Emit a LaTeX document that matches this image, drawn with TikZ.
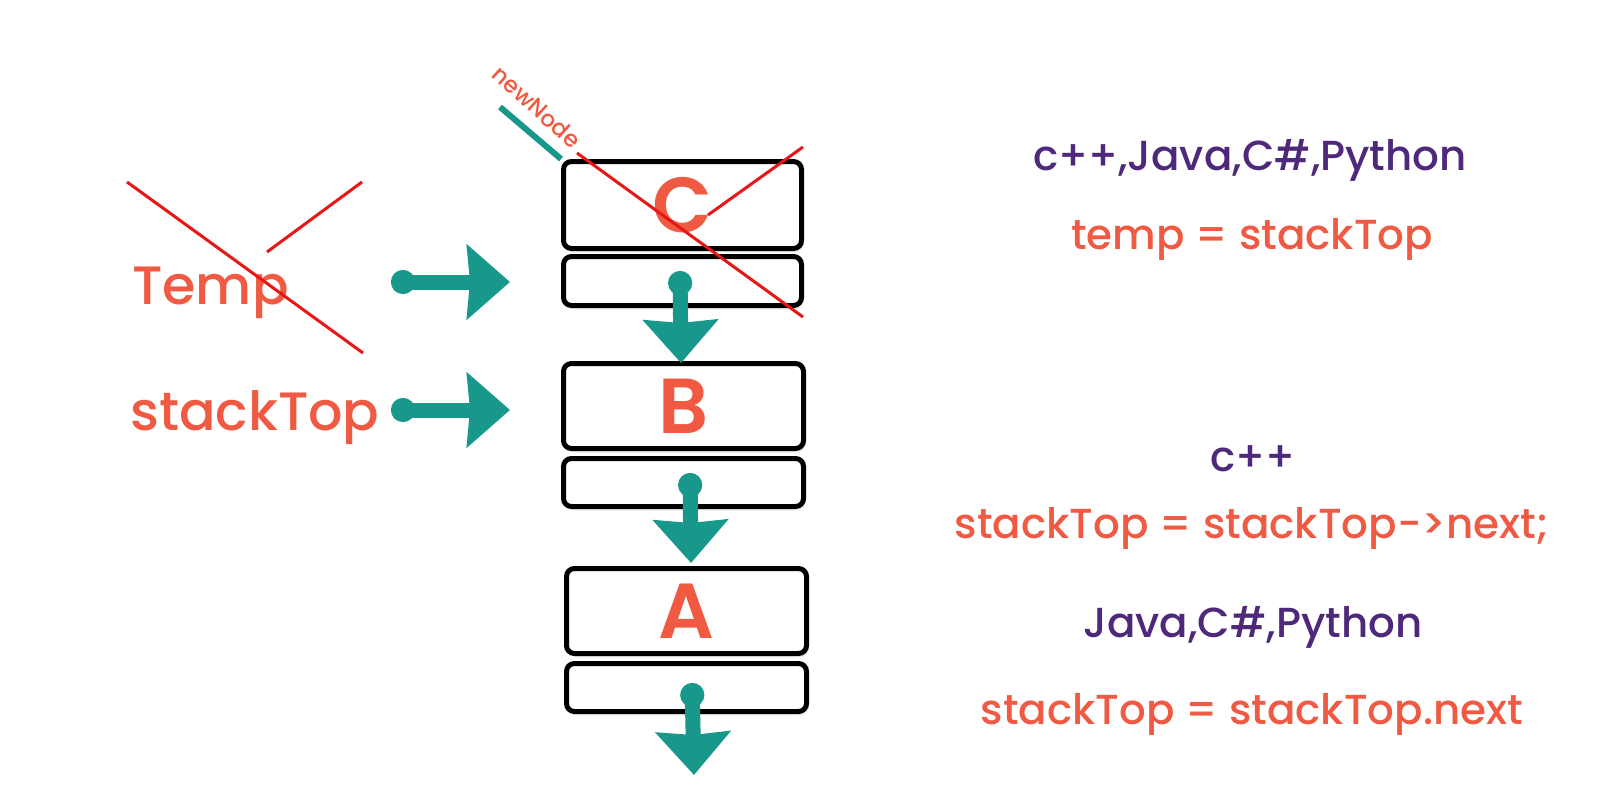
\documentclass[tikz,border=0pt]{standalone}
\usepackage{fontspec}
\setmainfont{Poppins}[UprightFont={* Medium}, BoldFont={* SemiBold}]
\usetikzlibrary{arrows.meta,shadows}
\definecolor{coral}{RGB}{240,90,66}
\definecolor{deeppurple}{RGB}{78,40,122}
\definecolor{tealc}{RGB}{24,152,138}
\definecolor{crossred}{RGB}{232,22,22}
\begin{document}
\begin{tikzpicture}[x=1pt,y=-1pt,
  cell/.style={draw=black, line width=5pt, rounded corners=8pt, fill=white,
    inner sep=0pt, text depth=0pt, text=coral,
    font=\fontsize{78}{80}\selectfont\bfseries,
    drop shadow={opacity=0.12, shadow xshift=2pt, shadow yshift=-4pt}},
  ptr/.style={draw=tealc, line width=15pt,
    {Circle[length=24pt]}-{Stealth[length=43pt,width=74pt,inset=3pt]}},
  strike/.style={draw=crossred, line width=3pt},
  bigLbl/.style={text=coral, inner sep=0pt, anchor=base west, font=\fontsize{54}{60}\selectfont},
  codeTxt/.style={inner sep=0pt, anchor=base, font=\fontsize{42}{50}\selectfont},
  langTxt/.style={codeTxt, text=deeppurple},
  stmtTxt/.style={codeTxt, text=coral}]
\useasboundingbox (0,0) rectangle (1599,800);
\fill[white] (0,0) rectangle (1599,800);

% stack nodes
\node[cell, minimum width=238pt, minimum height=87pt] (cTop) at (682.5,205) {C};
\node[cell, minimum width=238pt, minimum height=49pt] (cNext) at (682.5,281) {};
\node[cell, minimum width=240pt, minimum height=85pt] (bTop) at (683.5,406) {B};
\node[cell, minimum width=240pt, minimum height=48pt] (bNext) at (683.5,482.5) {};
\node[cell, minimum width=240pt, minimum height=85pt] (aTop) at (686.5,611) {A};
\node[cell, minimum width=240pt, minimum height=48pt] (aNext) at (686.5,687.5) {};

% labels
\node[bigLbl] (tempLbl) at (132,304) {Temp};
\node[bigLbl] (stackLbl) at (130,430) {stackTop};

% pointers
\coordinate (tempFrom) at (391,282);
\coordinate (tempTo) at (510,282);
\coordinate (stFrom) at (391,410);
\coordinate (stTo) at (510,410);
\coordinate (cFrom) at (680,271);
\coordinate (cTo) at (681,363);
\coordinate (bFrom) at (690,473);
\coordinate (bTo) at (691,563);
\coordinate (aFrom) at (692,683);
\coordinate (aTo) at (694,775);
\draw[ptr] (tempFrom) -- (tempTo);
\draw[ptr] (stFrom) -- (stTo);
\draw[ptr] (cFrom) -- (cTo);
\draw[ptr] (bFrom) -- (bTo);
\draw[ptr] (aFrom) -- (aTo);

% newNode pointer
\coordinate (nnStart) at (500,107);
\draw[draw=tealc, line width=6pt] (nnStart) -- (cTop.north west);
\node[text=coral, inner sep=0pt, rotate=-42, font=\fontsize{23}{24}\selectfont] (newNodeLbl) at (537,107) {newNode};

% strike-through marks
\draw[strike] (127,182) -- (363,353);
\draw[strike] (362,182) -- (267,252);
\draw[strike] (577,153) -- (803,317);
\draw[strike] (803,147) -- (708,215);

% code text
\node[langTxt] (lang1) at (1250,170) {c++,Java,C\#,Python};
\node[stmtTxt] (stmt1) at (1252,249) {temp = stackTop};
\node[langTxt] (lang2) at (1253,471) {c++};
\node[stmtTxt] (stmt2) at (1252,538) {stackTop = stackTop->next;};
\node[langTxt] (lang3) at (1253,637) {Java,C\#,Python};
\node[stmtTxt] (stmt3) at (1252,724) {stackTop = stackTop.next};
\end{tikzpicture}
\end{document}
